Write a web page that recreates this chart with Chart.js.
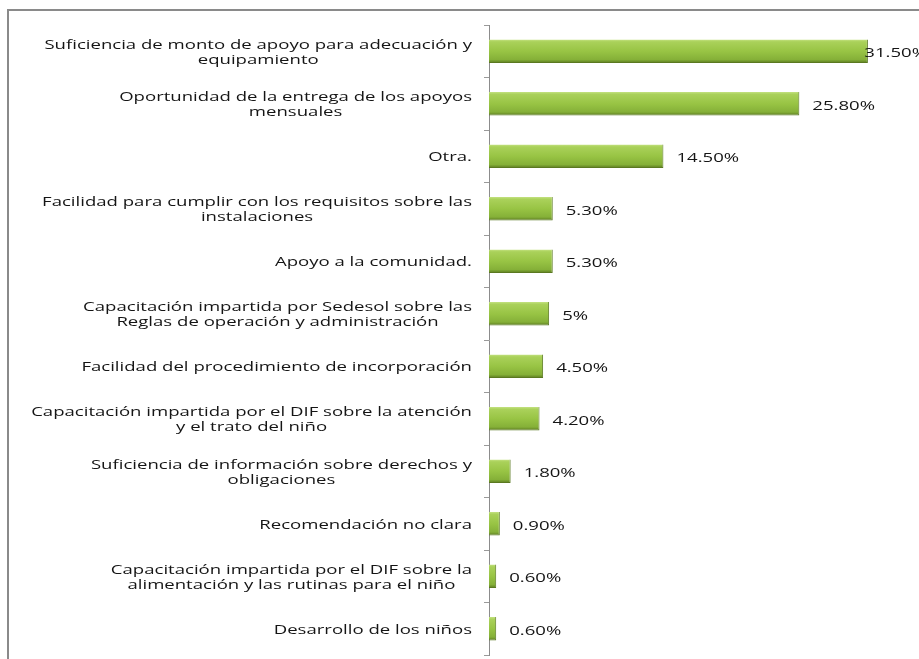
<!DOCTYPE html>
<html>
<head>
<meta charset="utf-8">
<script src="https://cdn.jsdelivr.net/npm/chart.js@4/dist/chart.umd.min.js"></script>
<style>
  html, body { margin: 0; padding: 0; background: #ffffff; }
  #wrap { width: 919px; height: 659px; }
</style>
</head>
<body>
<div id="wrap"><canvas id="chart" width="919" height="659"></canvas></div>
<script>
// Category labels (one entry per bar, multi-line where the label wraps)
const categories = [
  ["Suficiencia de monto de apoyo para adecuación y", "equipamiento"],
  ["Oportunidad de la entrega de los apoyos", "mensuales"],
  ["Otra."],
  ["Facilidad para cumplir con los requisitos sobre las", "instalaciones"],
  ["Apoyo a la comunidad."],
  ["Capacitación impartida por Sedesol sobre las", "Reglas de operación y administración"],
  ["Facilidad del procedimiento de incorporación"],
  ["Capacitación impartida por el DIF sobre la atención", "y el trato del niño"],
  ["Suficiencia de información sobre derechos y", "obligaciones"],
  ["Recomendación no clara"],
  ["Capacitación impartida por el DIF sobre la", "alimentación y las rutinas para el niño"],
  ["Desarrollo de los niños"]
];

// Share of responses (%)
const percentages = [31.5, 25.8, 14.5, 5.3, 5.3, 5, 4.5, 4.2, 1.8, 0.9, 0.6, 0.6];

// Value axis range (%)
const axisMin = 0;
const axisMax = 35;

const FONT = '13.5px "Open Sans", "DejaVu Sans", sans-serif';
const TEXT_STRETCH = 1.375;   // horizontal stretch applied to all text
const TEXT_COLOR = '#151515';
const BAR_FRACTION = 0.45;

function formatPct(v) {
  return Number.isInteger(v) ? v + '%' : v.toFixed(2) + '%';
}

function drawStretched(ctx, text, x, y, align) {
  ctx.save();
  ctx.translate(x, y);
  ctx.scale(TEXT_STRETCH, 1);
  ctx.textAlign = align;
  ctx.textBaseline = 'middle';
  ctx.fillText(text, 0, 0);
  ctx.restore();
}

// Vertical gradient per bar, positioned from the category scale
function barGradient(context) {
  const chart = context.chart;
  const yScale = chart.scales && chart.scales.y;
  const fallback = '#9cc447';
  if (!yScale || typeof context.dataIndex !== 'number') return fallback;
  const cy = yScale.getPixelForValue(context.dataIndex);
  const step = Math.abs(yScale.getPixelForValue(1) - yScale.getPixelForValue(0));
  const half = step * BAR_FRACTION / 2;
  if (!isFinite(cy) || !isFinite(half) || half <= 0) return fallback;
  const g = chart.ctx.createLinearGradient(0, cy - half, 0, cy + half);
  g.addColorStop(0, '#c4e282');
  g.addColorStop(0.1, '#aad15a');
  g.addColorStop(0.5, '#98c444');
  g.addColorStop(0.85, '#85b038');
  g.addColorStop(1, '#5a7820');
  return g;
}

// White background with the outer frame (top and left edges)
const framePlugin = {
  id: 'frame',
  beforeDraw(chart) {
    const ctx = chart.ctx;
    ctx.save();
    ctx.fillStyle = '#ffffff';
    ctx.fillRect(0, 0, chart.width, chart.height);
    ctx.strokeStyle = '#8a8a8a';
    ctx.lineWidth = 2;
    ctx.beginPath();
    ctx.moveTo(8, chart.height);
    ctx.lineTo(8, 10);
    ctx.lineTo(chart.width, 10);
    ctx.stroke();
    ctx.restore();
  }
};

// Category labels: block right-aligned to the axis, lines centred within the block
const categoryLabelPlugin = {
  id: 'categoryLabels',
  afterDraw(chart) {
    const ctx = chart.ctx;
    const yScale = chart.scales.y;
    const right = chart.chartArea.left - 17;
    const lineHeight = 15;
    ctx.save();
    ctx.font = FONT;
    ctx.fillStyle = TEXT_COLOR;
    categories.forEach((lines, i) => {
      const cy = yScale.getPixelForValue(i) + 1;
      const widths = lines.map(t => ctx.measureText(t).width * TEXT_STRETCH);
      const blockW = Math.max(...widths);
      const cx = right - blockW / 2;
      lines.forEach((t, j) => {
        const ly = cy + (j - (lines.length - 1) / 2) * lineHeight;
        drawStretched(ctx, t, cx, ly, 'center');
      });
    });
    ctx.restore();
  }
};

// Percentage labels just past the end of each bar, kept inside the canvas
const valueLabelPlugin = {
  id: 'valueLabels',
  afterDatasetsDraw(chart) {
    const ctx = chart.ctx;
    const meta = chart.getDatasetMeta(0);
    ctx.save();
    ctx.font = FONT;
    ctx.fillStyle = TEXT_COLOR;
    meta.data.forEach((bar, i) => {
      const text = formatPct(percentages[i]);
      const w = ctx.measureText(text).width * TEXT_STRETCH;
      let x = bar.x + 13;
      if (x + w > chart.width + 8) x = chart.width + 8 - w;
      drawStretched(ctx, text, x, bar.y + 2, 'left');
    });
    ctx.restore();
  }
};

new Chart(document.getElementById('chart'), {
  type: 'bar',
  data: {
    labels: categories,
    datasets: [{
      data: percentages,
      backgroundColor: barGradient,
      borderColor: '#5a7820',
      borderWidth: { top: 0, right: 1, bottom: 1, left: 0 },
      borderSkipped: false,
      barPercentage: BAR_FRACTION,
      categoryPercentage: 1
    }]
  },
  options: {
    indexAxis: 'y',
    responsive: false,
    devicePixelRatio: 1,
    animation: false,
    layout: { padding: { top: 25, right: 9, bottom: 4, left: 0 } },
    plugins: {
      legend: { display: false },
      tooltip: { enabled: false }
    },
    scales: {
      x: {
        display: false,
        min: axisMin,
        max: axisMax
      },
      y: {
        afterFit(scale) { scale.width = 489; },
        grid: {
          display: true,
          offset: true,
          drawOnChartArea: false,
          drawTicks: true,
          tickLength: 5,
          color: '#9a9a9a'
        },
        border: { display: true, color: '#8c8c8c', width: 1 },
        // tick text is drawn by the categoryLabels plugin
        ticks: { color: 'rgba(0,0,0,0)', autoSkip: false, padding: 0, font: { size: 1, lineHeight: 1 } }
      }
    }
  },
  plugins: [framePlugin, categoryLabelPlugin, valueLabelPlugin]
});
</script>
</body>
</html>
